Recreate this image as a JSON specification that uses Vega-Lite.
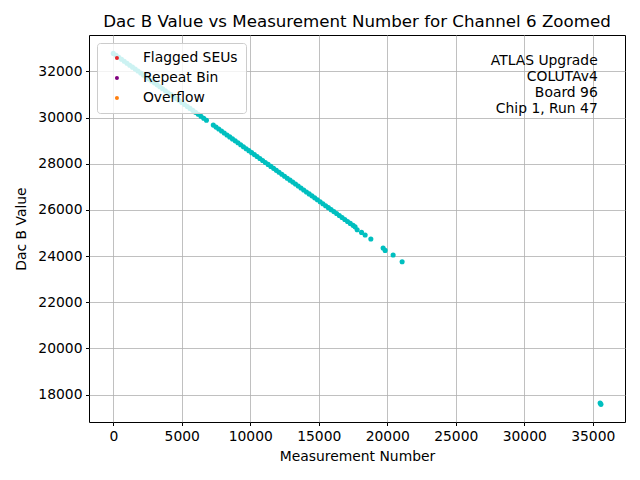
{
  "$schema": "https://vega.github.io/schema/vega-lite/v6.json",
  "title": {
    "text": "Dac B Value vs Measurement Number for Channel 6 Zoomed",
    "fontSize": 16.67,
    "fontWeight": "normal",
    "font": "DejaVu Sans",
    "color": "black",
    "anchor": "middle",
    "offset": 4
  },
  "width": 536,
  "height": 387,
  "autosize": {"type": "none"},
  "padding": {"left": 89, "top": 35, "right": 15, "bottom": 58},
  "datasets": {
    "points": [
      {"n": 0, "dac": 32780}, {"n": 200, "dac": 32695}, {"n": 400, "dac": 32610},
      {"n": 600, "dac": 32525}, {"n": 800, "dac": 32440}, {"n": 1000, "dac": 32354},
      {"n": 1200, "dac": 32269}, {"n": 1400, "dac": 32184}, {"n": 1600, "dac": 32099},
      {"n": 1800, "dac": 32014}, {"n": 2000, "dac": 31929}, {"n": 2200, "dac": 31844},
      {"n": 2400, "dac": 31759}, {"n": 2600, "dac": 31673}, {"n": 2800, "dac": 31588},
      {"n": 3000, "dac": 31503}, {"n": 3200, "dac": 31418}, {"n": 3400, "dac": 31333},
      {"n": 3600, "dac": 31248}, {"n": 3800, "dac": 31163}, {"n": 4000, "dac": 31078},
      {"n": 4200, "dac": 30992}, {"n": 4400, "dac": 30907}, {"n": 4600, "dac": 30822},
      {"n": 4800, "dac": 30737}, {"n": 5000, "dac": 30652}, {"n": 5200, "dac": 30567},
      {"n": 5400, "dac": 30482}, {"n": 5600, "dac": 30397}, {"n": 5800, "dac": 30312},
      {"n": 6000, "dac": 30226}, {"n": 6200, "dac": 30141}, {"n": 6400, "dac": 30056},
      {"n": 6600, "dac": 29971}, {"n": 6800, "dac": 29886},
      {"n": 7300, "dac": 29673}, {"n": 7500, "dac": 29588}, {"n": 7700, "dac": 29503},
      {"n": 7900, "dac": 29418}, {"n": 8100, "dac": 29333}, {"n": 8300, "dac": 29247},
      {"n": 8500, "dac": 29162}, {"n": 8700, "dac": 29077}, {"n": 8900, "dac": 28992},
      {"n": 9100, "dac": 28907}, {"n": 9300, "dac": 28822}, {"n": 9500, "dac": 28737},
      {"n": 9700, "dac": 28652}, {"n": 9900, "dac": 28567}, {"n": 10100, "dac": 28481},
      {"n": 10300, "dac": 28396}, {"n": 10500, "dac": 28311}, {"n": 10700, "dac": 28226},
      {"n": 10900, "dac": 28141}, {"n": 11100, "dac": 28056}, {"n": 11300, "dac": 27971},
      {"n": 11500, "dac": 27886}, {"n": 11700, "dac": 27800}, {"n": 11900, "dac": 27715},
      {"n": 12100, "dac": 27630}, {"n": 12300, "dac": 27545}, {"n": 12500, "dac": 27460},
      {"n": 12700, "dac": 27375}, {"n": 12900, "dac": 27290}, {"n": 13100, "dac": 27205},
      {"n": 13300, "dac": 27120}, {"n": 13500, "dac": 27034}, {"n": 13700, "dac": 26949},
      {"n": 13900, "dac": 26864}, {"n": 14100, "dac": 26779}, {"n": 14300, "dac": 26694},
      {"n": 14500, "dac": 26609}, {"n": 14700, "dac": 26524}, {"n": 14900, "dac": 26439},
      {"n": 15100, "dac": 26353}, {"n": 15300, "dac": 26268}, {"n": 15500, "dac": 26183},
      {"n": 15700, "dac": 26098}, {"n": 15900, "dac": 26013}, {"n": 16100, "dac": 25928},
      {"n": 16300, "dac": 25843}, {"n": 16500, "dac": 25758}, {"n": 16700, "dac": 25672},
      {"n": 16900, "dac": 25587}, {"n": 17100, "dac": 25502}, {"n": 17300, "dac": 25417},
      {"n": 17500, "dac": 25332}, {"n": 17650, "dac": 25268},
      {"n": 17802, "dac": 25144}, {"n": 18123, "dac": 25027}, {"n": 18386, "dac": 24915},
      {"n": 18802, "dac": 24741}, {"n": 19699, "dac": 24352}, {"n": 19845, "dac": 24248},
      {"n": 20429, "dac": 24048}, {"n": 21086, "dac": 23758},
      {"n": 35540, "dac": 17640}, {"n": 35600, "dac": 17580}
    ],
    "flags": [],
    "notes": [
      {"note": "ATLAS Upgrade\nCOLUTAv4\u2007\nBoard 96\nChip 1, Run 47"}
    ]
  },
  "data": {"name": "points"},
  "layer": [
    {
      "mark": {"type": "circle", "size": 26, "color": "#00bfbf", "opacity": 1},
      "encoding": {
        "x": {
          "field": "n",
          "type": "quantitative",
          "title": "Measurement Number",
          "scale": {"domain": [-1773, 37356], "nice": false, "zero": false},
          "axis": {"values": [0, 5000, 10000, 15000, 20000, 25000, 30000, 35000], "format": "d"}
        },
        "y": {
          "field": "dac",
          "type": "quantitative",
          "title": "Dac B Value",
          "scale": {"domain": [16816, 33576], "nice": false, "zero": false},
          "axis": {"values": [18000, 20000, 22000, 24000, 26000, 28000, 30000, 32000], "format": "d"}
        }
      }
    },
    {
      "data": {"name": "flags"},
      "mark": {"type": "circle", "size": 16, "opacity": 1},
      "encoding": {
        "x": {"field": "n", "type": "quantitative"},
        "y": {"field": "dac", "type": "quantitative"},
        "color": {
          "field": "flag",
          "type": "nominal",
          "scale": {
            "domain": ["Flagged SEUs", "Repeat Bin", "Overflow"],
            "range": ["#e8262a", "#800080", "#ff7f0e"]
          },
          "legend": {
            "title": null,
            "orient": "none",
            "legendX": 8,
            "legendY": 8,
            "symbolType": "circle",
            "symbolSize": 16,
            "symbolOpacity": 1,
            "symbolStrokeWidth": 0,
            "labelFontSize": 13.89,
            "labelFont": "DejaVu Sans",
            "labelColor": "black",
            "labelOffset": 19,
            "symbolOffset": 5,
            "rowPadding": 5,
            "padding": 8,
            "fillColor": "rgba(255,255,255,0.8)",
            "strokeColor": "#cccccc",
            "cornerRadius": 3
          }
        }
      }
    },
    {
      "data": {"name": "notes"},
      "mark": {
        "type": "text",
        "align": "right",
        "baseline": "middle",
        "lineBreak": "\n",
        "lineHeight": 16,
        "fontSize": 13.89,
        "font": "DejaVu Sans",
        "color": "black"
      },
      "encoding": {
        "x": {"datum": 35364},
        "y": {"datum": 32463},
        "text": {"field": "note"}
      }
    }
  ],
  "config": {
    "font": "DejaVu Sans",
    "view": {"stroke": "black", "strokeWidth": 1},
    "axis": {
      "labelFont": "DejaVu Sans",
      "titleFont": "DejaVu Sans",
      "labelFontSize": 13.89,
      "titleFontSize": 13.89,
      "titleFontWeight": "normal",
      "labelColor": "black",
      "titleColor": "black",
      "domain": false,
      "tickColor": "black",
      "tickSize": 3.5,
      "labelPadding": 3.5,
      "gridColor": "#b0b0b0",
      "gridWidth": 0.8,
      "labelFlush": false
    },
    "axisX": {"titlePadding": 7},
    "axisY": {"titlePadding": 9}
  }
}
